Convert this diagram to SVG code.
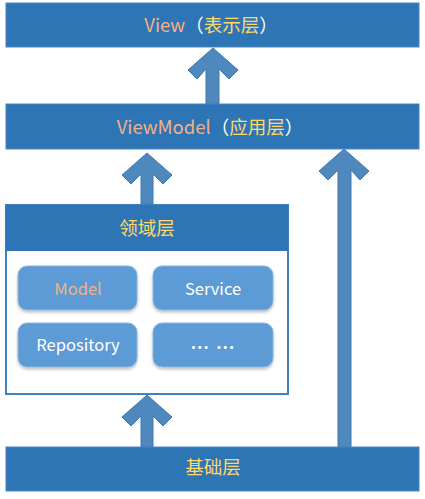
<svg xmlns="http://www.w3.org/2000/svg" width="425" height="499" viewBox="0 0 425 499">
<defs>
<style>
.bar{fill:#2e75b6;stroke:#4a86c3;stroke-width:1}
.arrow{fill:#4f88bd;stroke:#3e78b0;stroke-width:1}
.card{fill:#5b9bd5;stroke:#8cb4df;stroke-width:1}
.t{font-family:"Noto Sans CJK SC","Microsoft YaHei",sans-serif;text-anchor:middle;dominant-baseline:central}
.big{font-size:18.5px}
.sm{font-size:16.5px}
.en{fill:#f4b183}
.zh{fill:#ffd966}
.w{fill:#ffffff}
</style>
<filter id="sh" x="-10%" y="-10%" width="130%" height="140%">
<feDropShadow dx="0" dy="2" stdDeviation="1.5" flood-color="#000" flood-opacity="0.25"/>
</filter>
</defs>
<g id="connectors">
<polygon class="arrow" points="213,48 238,70 229,79 219,69 219,104 206,104 206,69 197,79 188,70"/>
<polygon class="arrow" points="147,153 172,175 163,184 153,174 153,204 141,204 141,174 131,184 122,175"/>
<polygon class="arrow" points="147,395 172,417 163,426 153,416 153,447 141,447 141,416 131,426 122,417"/>
<polygon class="arrow" points="344,149 369,171 360,180 351,170 351,447 338,447 338,170 328,180 319,171"/>
</g>
<g id="view">
<rect class="bar" x="6" y="3" width="413" height="44"/>
<text class="t big" x="211" y="24"><tspan class="en">View</tspan><tspan class="w">（</tspan><tspan class="zh">表示层</tspan><tspan class="w">）</tspan></text>
</g>
<g id="viewmodel">
<rect class="bar" x="6" y="104" width="413" height="45"/>
<text class="t big" x="210" y="126"><tspan class="en">ViewModel</tspan><tspan class="w">（</tspan><tspan class="zh">应用层</tspan><tspan class="w">）</tspan></text>
</g>
<g id="domain">
<rect x="6" y="205" width="282" height="189" fill="#ffffff" stroke="#3f80c0" stroke-width="2"/>
<rect x="6" y="205" width="282" height="46" fill="#2e75b6"/>
<text class="t big zh" x="147" y="227">领域层</text>
</g>
<g id="model">
<rect class="card" x="18" y="266" width="119" height="44" rx="9" filter="url(#sh)"/>
<text class="t sm en" x="78" y="288">Model</text>
</g>
<g id="service">
<rect class="card" x="153" y="266" width="120" height="44" rx="9" filter="url(#sh)"/>
<text class="t sm w" x="213" y="288">Service</text>
</g>
<g id="repository">
<rect class="card" x="18" y="323" width="119" height="44" rx="9" filter="url(#sh)"/>
<text class="t sm w" x="78" y="344">Repository</text>
</g>
<g id="more">
<rect class="card" x="153" y="323" width="120" height="44" rx="9" filter="url(#sh)"/>
<text class="t w" x="213" y="346" style="font-size:19px;font-weight:bold;letter-spacing:1px" dominant-baseline="auto">… …</text>
</g>
<g id="base">
<rect class="bar" x="6" y="447" width="413" height="44"/>
<text class="t big zh" x="213" y="466">基础层</text>
</g>
</svg>
